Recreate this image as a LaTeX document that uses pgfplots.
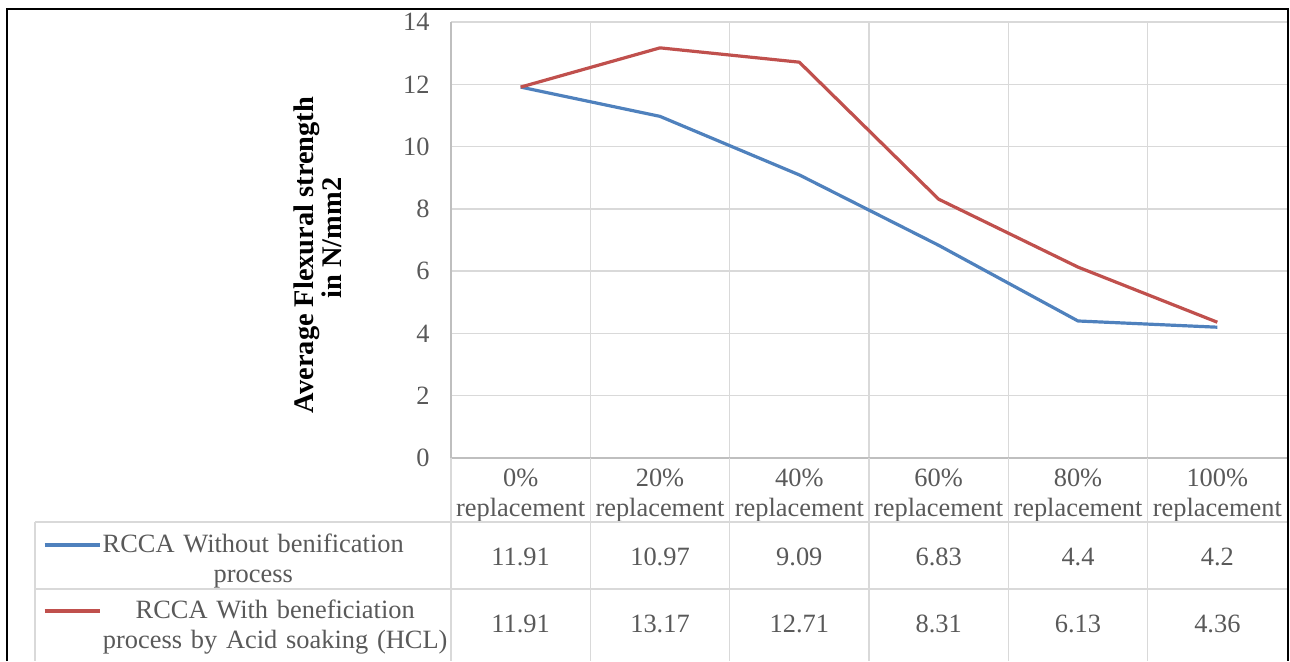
\documentclass[border=0pt]{standalone}
\usepackage{fontspec}
\setmainfont{Liberation Serif}
\usepackage{pgfplots}
\pgfplotsset{compat=1.18}
\definecolor{txt}{HTML}{595959}
\definecolor{grd}{HTML}{D9D9D9}
\definecolor{axl}{HTML}{BFBFBF}
\definecolor{sblue}{HTML}{4F81BD}
\definecolor{sred}{HTML}{C0504D}
\begin{document}
\begin{tikzpicture}
\useasboundingbox (0pt,0pt) rectangle (645pt,330.5pt);
\begin{axis}[
  at={(225.5pt,101.5pt)}, anchor=south west,
  scale only axis, width=418pt, height=218pt,
  xmin=0, xmax=6, ymin=0, ymax=14,
  xtick={0.5,1.5,2.5,3.5,4.5,5.5},
  xticklabels={{0\%\\replacement},{20\%\\replacement},{40\%\\replacement},{60\%\\replacement},{80\%\\replacement},{100\%\\replacement}},
  minor xtick={1,2,3,4,5},
  xminorgrids,
  ytick={0,2,4,6,8,10,12,14},
  ymajorgrids,
  major grid style={grd, line width=0.75pt},
  minor grid style={grd, line width=0.75pt},
  major tick length=0pt, minor tick length=0pt,
  axis lines*=left,
  axis line style={axl, line width=0.75pt},
  /pgf/number format/assume math mode=true,
  tick label style={font=\fontsize{13.2}{15}\selectfont, text=txt},
  xticklabel style={align=center, anchor=north, inner sep=0pt, text height=24pt, yshift=-5pt},
  yticklabel style={anchor=east, inner sep=0pt, xshift=-10.5pt},
  ylabel={Average Flexural strength\\\rule{17pt}{0pt}in N/mm2},
  ylabel style={font=\bfseries\fontsize{14.2}{14}\selectfont, align=center, at={(axis description cs:-0.159,0.4656)}, anchor=center, text=black},
  legend style={at={(axis description cs:-0.48804,-0.17546)}, anchor=north west, draw=none, fill=none, inner sep=0pt, outer sep=0pt, row sep=6pt, column sep=0pt, font=\fontsize{13.2}{15}\selectfont, text=txt, cells={anchor=base west}, nodes={inner sep=0pt, text width=174pt, align=center, text height=9pt, text depth=18pt}},
  legend image code/.code={\draw[#1] (0pt,3.75pt) -- (27.5pt,3.75pt);},
  clip=false,
]
\addplot[sblue, line width=1.6pt, line join=round] coordinates {(0.5,11.91) (1.5,10.97) (2.5,9.09) (3.5,6.83) (4.5,4.4) (5.5,4.2)};
\addlegendentry{RCCA Without benification\rule{22pt}{0pt}\\process\rule{22pt}{0pt}}
\addplot[sred, line width=1.6pt, line join=round] coordinates {(0.5,11.91) (1.5,13.17) (2.5,12.71) (3.5,8.31) (4.5,6.13) (5.5,4.36)};
\addlegendentry{RCCA With beneficiation\\process by Acid soaking (HCL)}
\end{axis}
% data table grid
\draw[grd, line width=0.75pt] (17.5pt,69.5pt) -- (643.5pt,69.5pt) (17.5pt,36pt) -- (643.5pt,36pt) (17.5pt,69.5pt) -- (17.5pt,0pt) (225.5pt,101.5pt) -- (225.5pt,0pt);
\foreach \k in {1,...,5} \draw[grd, line width=0.75pt] ({225.5pt+69.6667pt*\k},101.5pt) -- ({225.5pt+69.6667pt*\k},0pt);
\foreach \v [count=\i from 0] in {11.91,10.97,9.09,6.83,4.4,4.2}
  \node[text=txt, font=\fontsize{13.2}{15}\selectfont, inner sep=0pt] at ({225.5pt+69.6667pt*(\i+0.5)},52pt) {\v};
\foreach \v [count=\i from 0] in {11.91,13.17,12.71,8.31,6.13,4.36}
  \node[text=txt, font=\fontsize{13.2}{15}\selectfont, inner sep=0pt] at ({225.5pt+69.6667pt*(\i+0.5)},18.5pt) {\v};
% outer frame
\draw[black, line width=1.2pt] (3.5pt,0pt) -- (3.5pt,326pt) -- (644pt,326pt) -- (644pt,0pt);
\end{tikzpicture}
\end{document}
